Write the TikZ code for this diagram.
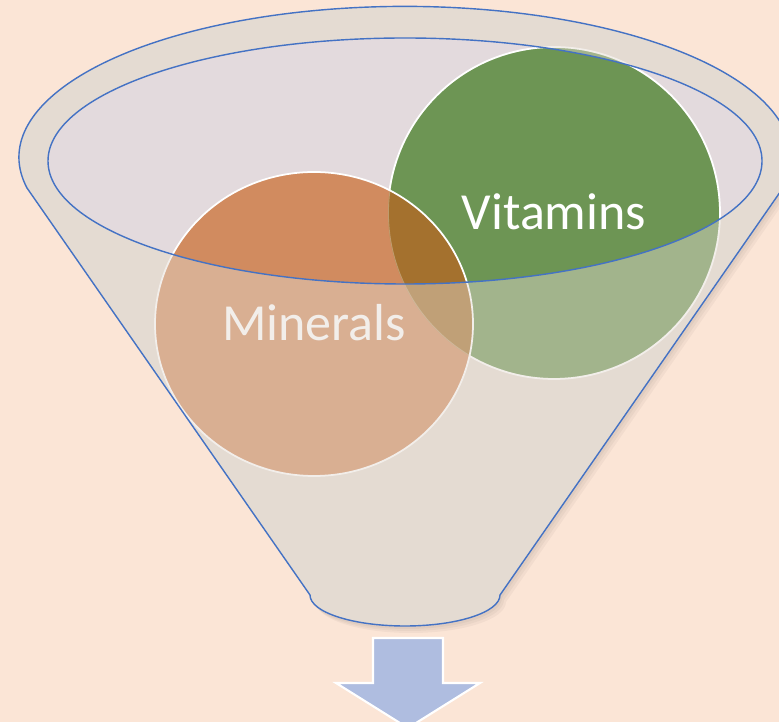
\documentclass[tikz,border=0pt]{standalone}
\usepackage{fontspec}
\setmainfont{Carlito}
\definecolor{peach}{HTML}{FBE5D6}
\definecolor{body}{HTML}{E4DBD2}
\definecolor{mouth}{HTML}{E3DADD}
\definecolor{rimline}{HTML}{4472C4}
\definecolor{mineral}{HTML}{D18B5F}
\definecolor{vitamin}{HTML}{6D9554}
\definecolor{blend}{HTML}{A4712E}
\definecolor{outflow}{HTML}{AFBDE0}
\newcommand{\Mid}{405}
\newcommand{\FunnelPath}{(27,188) arc[start angle=168.3, end angle=371.7, x radius=386, y radius=151]
  -- (500,595) arc[start angle=0, end angle=180, x radius=95, y radius=31] -- cycle}
\newcommand{\MouthPath}{(\Mid,161) ellipse[x radius=357, y radius=123]}
\newcommand{\VitPath}{(554,213) circle (166)}
\newcommand{\MinPath}{(314,324) ellipse[x radius=159, y radius=152]}

\begin{document}
\begin{tikzpicture}[x=0.01cm, y=-0.01cm,
    tag/.style={inner sep=0pt, font=\fontsize{14.8}{17}\selectfont, text=white},
    edge/.style={rimline, line width=0.4pt},
  ]
% --- Background ------------------------------------------------------------------------
\clip (0,0) rectangle (779,722);
\fill[peach] (0,0) rectangle (779,722);

% --- A soft shadow, then the funnel behind the balls ----------------------------------------
\foreach \d in {2,4,6} {
  \fill[black, opacity=0.035, shift={(\d,\d+1)}] \FunnelPath;
}
\fill[body] \FunnelPath;
\fill[mouth] \MouthPath;

% --- The two balls and where they meet ------------------------------------------------------
\fill[vitamin] \VitPath;
\draw[white, line width=0.5pt] \VitPath;
\fill[mineral] \MinPath;
\begin{scope}
  \clip \VitPath;
  \fill[blend] \MinPath;
  \draw[white, opacity=0.3, line width=0.5pt] \VitPath;
\end{scope}
\draw[white, line width=0.5pt] \MinPath;
\node[tag] (min) at (314,323) {Minerals};
\node[tag] (vit) at (554,212) {Vitamins};

% --- The front of the funnel, seen through ----------------------------------------------------
\fill[body, opacity=0.45, even odd rule] \FunnelPath \MouthPath;
\draw[edge] \FunnelPath;
\draw[edge] \MouthPath;

% --- What comes out ---------------------------------------------------------------------------
\draw[outflow, fill=outflow, draw=white, line width=0.6pt]
  (373,638) -- (443,638) -- (443,683) -- (480,683) -- (408,728) -- (336,683) -- (373,683) -- cycle;
\end{tikzpicture}
\end{document}
